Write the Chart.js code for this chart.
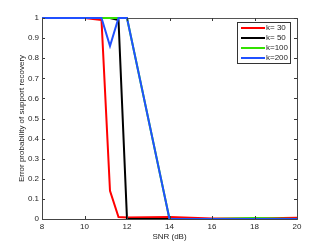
<!DOCTYPE html>
<html>
<head>
<meta charset="utf-8">
<script src="https://cdn.jsdelivr.net/npm/chart.js@4/dist/chart.umd.min.js"></script>
<style>
  html, body { margin: 0; padding: 0; background: #fff; }
  #wrap { width: 327px; height: 246px; }
</style>
</head>
<body>
<div id="wrap"><canvas id="c" width="327" height="246"></canvas></div>
<script>
// SNR values (dB)
const snr = [8, 10, 10.8, 11.2, 11.6, 12, 14, 16, 18, 20];

const k30 = [1, 1, 0.99, 0.14, 0.01, 0.008, 0.01, 0.002, 0.003, 0.006];
const k50 = [1, 1, 1, 1, 0.99, 0, 0, 0, 0, 0];
const k100 = [1, 1, 1, 1, 1, 1, 0, 0, 0.005, 0];
const k200 = [1, 1, 1, 0.86, 1, 1, 0, 0, 0, 0];

const seriesLabels = ['k= 30', 'k= 50', 'k=100', 'k=200'];
const seriesColors = ['#ff0000', '#000000', '#33e000', '#2050ff'];
const xTicks = [8, 10, 12, 14, 16, 18, 20];
const yTicks = [0, 0.1, 0.2, 0.3, 0.4, 0.5, 0.6, 0.7, 0.8, 0.9, 1];

const font = { family: 'Liberation Sans, Arial, sans-serif', size: 8 };
const textColor = '#262626';

function pts(ys) {
    return snr.map((x, i) => ({ x: x, y: ys[i] }));
}

// matlab style box, inward ticks and legend
const matlabAxes = {
    id: 'matlabAxes',
    beforeDatasetsDraw(chart) {
        const ctx = chart.ctx;
        const a = chart.chartArea;
        ctx.save();
        ctx.strokeStyle = '#555';
        ctx.lineWidth = 1;
        ctx.strokeRect(Math.round(a.left) + 0.5, Math.round(a.top) + 0.5,
            Math.round(a.right - a.left), Math.round(a.bottom - a.top));
        ctx.restore();
    },
    afterDraw(chart) {
        const ctx = chart.ctx;
        const a = chart.chartArea;
        const xs = chart.scales.x, ys = chart.scales.y;
        ctx.save();
        ctx.strokeStyle = '#3a3a3a';
        ctx.lineWidth = 1;
        ctx.beginPath();
        xTicks.forEach(v => {
            const px = Math.round(xs.getPixelForValue(v)) + 0.5;
            ctx.moveTo(px, a.bottom); ctx.lineTo(px, a.bottom - 3);
            ctx.moveTo(px, a.top); ctx.lineTo(px, a.top + 3);
        });
        yTicks.forEach(v => {
            const py = Math.round(ys.getPixelForValue(v)) + 0.5;
            ctx.moveTo(a.left, py); ctx.lineTo(a.left + 3, py);
            ctx.moveTo(a.right, py); ctx.lineTo(a.right - 3, py);
        });
        ctx.stroke();
        ctx.strokeStyle = '#444';
        ctx.beginPath();
        ctx.moveTo(Math.round(a.left) + 0.5, a.top);
        ctx.lineTo(Math.round(a.left) + 0.5, Math.round(a.bottom) + 0.5);
        ctx.lineTo(a.right, Math.round(a.bottom) + 0.5);
        ctx.moveTo(Math.round(a.right) + 0.5, a.top);
        ctx.lineTo(Math.round(a.right) + 0.5, a.bottom);
        ctx.stroke();

        // legend box
        const bx = a.right - 60, by = a.top + 4, bw = 53, bh = 41;
        ctx.fillStyle = '#fff';
        ctx.fillRect(bx, by, bw, bh);
        ctx.strokeStyle = '#333';
        ctx.strokeRect(bx + 0.5, by + 0.5, bw, bh);
        ctx.font = '8px ' + font.family;
        ctx.textBaseline = 'middle';
        ctx.fillStyle = textColor;
        seriesLabels.forEach((lab, i) => {
            const ly = by + 6 + i * 10;
            ctx.strokeStyle = seriesColors[i];
            ctx.lineWidth = 2;
            ctx.beginPath();
            ctx.moveTo(bx + 4, ly); ctx.lineTo(bx + 28, ly);
            ctx.stroke();
            ctx.fillText(lab, bx + 29, ly);
        });
        ctx.restore();
    }
};

const datasets = [k30, k50, k100, k200].map((d, i) => ({
    label: seriesLabels[i],
    data: pts(d),
    borderColor: seriesColors[i],
    backgroundColor: seriesColors[i],
    borderWidth: 2,
    pointRadius: 0,
    tension: 0,
    fill: false,
    clip: 3,
    order: 4 - i
}));

new Chart(document.getElementById('c'), {
    type: 'line',
    data: { datasets: datasets },
    options: {
        responsive: false,
        animation: false,
        layout: { padding: { top: 18, right: 30, left: 0, bottom: 0 } },
        scales: {
            x: {
                type: 'linear',
                min: 8, max: 20,
                afterFit: s => { s.height = 27; },
                afterBuildTicks: s => { s.ticks = xTicks.map(v => ({ value: v })); },
                grid: { display: false, drawTicks: false },
                border: { display: false },
                ticks: { font: font, color: textColor, padding: 3, maxRotation: 0 },
                title: { display: true, text: 'SNR (dB)', font: font, color: textColor, padding: { top: 0, bottom: 4 } }
            },
            y: {
                min: 0, max: 1,
                afterFit: s => { s.width = 42; },
                afterBuildTicks: s => { s.ticks = yTicks.map(v => ({ value: v })); },
                grid: { display: false, drawTicks: false },
                border: { display: false },
                ticks: { font: font, color: textColor, padding: 3, callback: v => String(Math.round(v * 10) / 10) },
                title: { display: true, text: 'Error probability of support recovery', font: font, color: textColor, padding: { top: 17, bottom: 0 } }
            }
        },
        plugins: {
            legend: { display: false },
            tooltip: { enabled: false }
        }
    },
    plugins: [matlabAxes]
});
</script>
</body>
</html>
